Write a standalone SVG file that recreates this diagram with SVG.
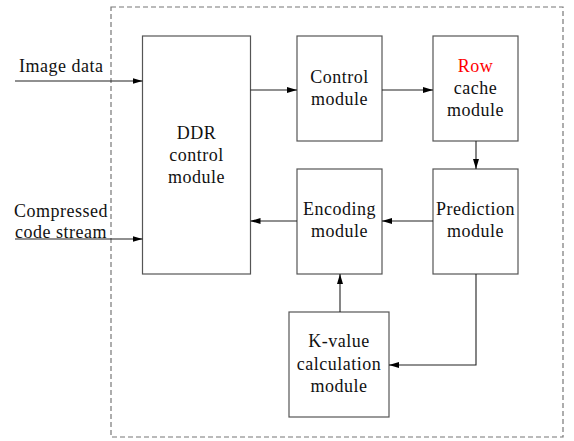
<svg xmlns="http://www.w3.org/2000/svg" width="574" height="441" viewBox="0 0 574 441" font-family="Liberation Serif, Tinos, Times New Roman, Noto Serif, DejaVu Serif, serif">
  <style>
    .box { fill: #fff; stroke: #555; stroke-width: 1.2; }
    .frame { fill: none; stroke: #777; stroke-width: 1.2; stroke-dasharray: 5 3; }
    .wire { fill: none; stroke: #222; stroke-width: 1.1; }
    .t { font-size: 18px; letter-spacing: 0.5px; fill: #111; }
    .c { text-anchor: middle; }
    .red { fill: #ff0000; }
  </style>
  <defs>
    <marker id="arrow" viewBox="0 0 10 6" refX="10" refY="3" markerWidth="10" markerHeight="6" markerUnits="userSpaceOnUse" orient="auto">
      <path d="M0,0 L10,3 L0,6 Z" fill="#000"/>
    </marker>
  </defs>
  <rect width="574" height="441" fill="#fff"/>

  <!-- system boundary -->
  <rect class="frame" x="111" y="7" width="452" height="430"/>

  <!-- external inputs -->
  <text class="t" x="19" y="72">Image data</text>
  <text class="t" x="14" y="217">Compressed</text>
  <text class="t" x="15" y="238">code stream</text>

  <g id="ddr">
    <rect class="box" x="142.5" y="36" width="108" height="238"/>
    <text class="t c" x="196.5" y="139">DDR</text>
    <text class="t c" x="196.5" y="161">control</text>
    <text class="t c" x="196.5" y="183">module</text>
  </g>
  <g id="control">
    <rect class="box" x="297" y="36" width="85" height="105"/>
    <text class="t c" x="339.5" y="83">Control</text>
    <text class="t c" x="339.5" y="105">module</text>
  </g>
  <g id="rowcache">
    <rect class="box" x="433" y="36" width="85" height="105"/>
    <text class="t c red" x="475.5" y="72">Row</text>
    <text class="t c" x="475.5" y="94">cache</text>
    <text class="t c" x="475.5" y="116">module</text>
  </g>
  <g id="encoding">
    <rect class="box" x="297" y="169" width="85" height="105"/>
    <text class="t c" x="339.5" y="215">Encoding</text>
    <text class="t c" x="339.5" y="237">module</text>
  </g>
  <g id="prediction">
    <rect class="box" x="433" y="169" width="85" height="105"/>
    <text class="t c" x="475.5" y="215">Prediction</text>
    <text class="t c" x="475.5" y="237">module</text>
  </g>
  <g id="kvalue">
    <rect class="box" x="289" y="312" width="100" height="105"/>
    <text class="t c" x="339" y="347">K-value</text>
    <text class="t c" x="339" y="370">calculation</text>
    <text class="t c" x="339" y="392">module</text>
  </g>

  <g id="connectors">
    <line class="wire" x1="15" y1="81" x2="142.5" y2="81" marker-end="url(#arrow)"/>
    <line class="wire" x1="15" y1="239" x2="142.5" y2="239" marker-end="url(#arrow)"/>
    <line class="wire" x1="250.5" y1="90" x2="297" y2="90" marker-end="url(#arrow)"/>
    <line class="wire" x1="382" y1="90" x2="433" y2="90" marker-end="url(#arrow)"/>
    <line class="wire" x1="476" y1="141" x2="476" y2="169" marker-end="url(#arrow)"/>
    <line class="wire" x1="433" y1="221" x2="382" y2="221" marker-end="url(#arrow)"/>
    <line class="wire" x1="297" y1="221" x2="250.5" y2="221" marker-end="url(#arrow)"/>
    <polyline class="wire" points="476,274 476,365 389,365" marker-end="url(#arrow)"/>
    <line class="wire" x1="340" y1="312" x2="340" y2="274" marker-end="url(#arrow)"/>
  </g>
</svg>
